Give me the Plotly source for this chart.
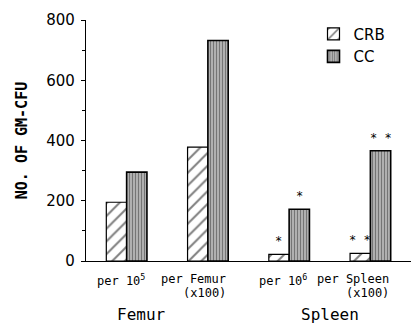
import plotly.graph_objects as go

# GM-CFU counts by site and normalisation
categories = ["per 10<sup>5</sup>", "per Femur", "per 10<sup>6</sup>", "per Spleen"]
category_sub = ["", "(x100)", "", "(x100)"]
crb_values = [195, 378, 22, 25]
cc_values = [295, 732, 172, 366]
crb_marks = ["", "", "*", "* *"]
cc_marks = ["", "", "*", "* *"]
groups = ["Femur", "Spleen"]
group_pos = [0.18, 2.5]
y_ticks = [0, 200, 400, 600, 800]

x = list(range(len(categories)))

MONO = "DejaVu Sans Mono"
SANS = "DejaVu Sans"

fig = go.Figure()
fig.add_trace(go.Bar(
    name="CRB", x=x, y=crb_values,
    marker=dict(color="white", line=dict(color="black", width=1.2),
                pattern=dict(shape="/", fgcolor="black", bgcolor="white",
                             size=9, solidity=0.22)),
))
fig.add_trace(go.Bar(
    name="CC", x=x, y=cc_values,
    marker=dict(color="#b0b0b0", line=dict(color="black", width=1.6),
                pattern=dict(shape="|", fgcolor="#2e2e2e", bgcolor="#bcbcbc",
                             size=3, solidity=0.45)),
))

# significance marks above the bars (each bar is a quarter of a category wide)
for vals, marks, off in ((crb_values, crb_marks, -0.125), (cc_values, cc_marks, 0.125)):
    for i, (v, m) in enumerate(zip(vals, marks)):
        if m:
            fig.add_annotation(x=i + off, y=v, xref="x", yref="y", text=m,
                               xanchor="center", yanchor="bottom", yshift=4,
                               showarrow=False,
                               font=dict(family=MONO, size=12, color="black"))

# category labels under each pair of bars, right aligned
for i, (lab, sub) in enumerate(zip(categories, category_sub)):
    fig.add_annotation(x=i + 0.25, y=0, xref="x", yref="paper", text=lab,
                       xanchor="right", yanchor="top", yshift=-9,
                       showarrow=False, font=dict(family=MONO, size=12, color="black"))
    if sub:
        fig.add_annotation(x=i + 0.25, y=0, xref="x", yref="paper", text=sub,
                           xanchor="right", yanchor="top", yshift=-23,
                           showarrow=False, font=dict(family=MONO, size=12, color="black"))

for g, gx in zip(groups, group_pos):
    fig.add_annotation(x=gx, y=0, xref="x", yref="paper", text=g,
                       xanchor="center", yanchor="top", yshift=-42,
                       showarrow=False, font=dict(family=MONO, size=16, color="black"))

fig.update_layout(
    width=411, height=323,
    margin=dict(l=86, r=0, t=20, b=62),
    paper_bgcolor="white", plot_bgcolor="white",
    barmode="group", bargap=0.5, bargroupgap=0,
    font=dict(family=SANS, color="black"),
    showlegend=True,
    legend=dict(x=0.7, y=1.01, xanchor="left", yanchor="top",
                bgcolor="rgba(0,0,0,0)", font=dict(family=SANS, size=15),
                tracegroupgap=0),
    xaxis=dict(range=[-0.5, 3.5], showline=True, linecolor="black", linewidth=1.2,
               tickvals=[], showticklabels=False, ticks="", showgrid=False,
               zeroline=False),
    yaxis=dict(range=[0, 800], showline=True, linecolor="black", linewidth=1.2,
               tickvals=y_ticks, ticks="outside", ticklen=4, tickcolor="black",
               minor=dict(ticks="outside", ticklen=3, dtick=100, tickcolor="black"),
               tickfont=dict(family=SANS, size=15), showgrid=False, zeroline=False,
               ticklabelstandoff=3,
               title=dict(text="<b>NO. OF GM-CFU</b>", font=dict(family=MONO, size=15),
                          standoff=15)),
)

fig.write_html("out.html")
